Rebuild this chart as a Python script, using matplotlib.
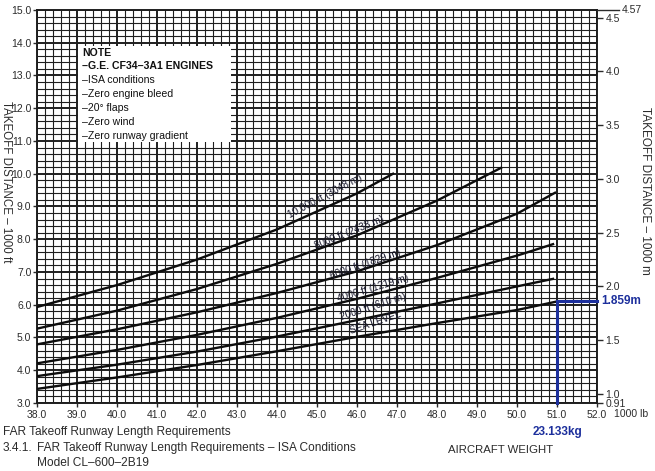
import matplotlib.pyplot as plt
import numpy as np

plt.rcParams['font.family'] = ['Liberation Sans', 'DejaVu Sans']

# aircraft weight, 1000 lb
wt_sl = [38, 40, 42, 44, 46, 48, 50, 51.0]
wt_2k = [38, 40, 42, 44, 46, 48, 50, 50.9]
wt_4k = [38, 40, 42, 44, 46, 48, 50, 50.9]
wt_6k = [38, 40, 42, 44, 46, 48, 50, 50.95]
wt_8k = [38, 40, 42, 44, 46, 48, 49.6]
wt_10k = [38, 40, 42, 44, 45, 46, 46.9]

# takeoff distance, 1000 ft
dist_sl = [3.43, 3.78, 4.16, 4.58, 5.02, 5.44, 5.84, 6.10]
dist_2k = [3.82, 4.17, 4.57, 5.03, 5.53, 6.04, 6.56, 6.79]
dist_4k = [4.21, 4.62, 5.08, 5.60, 6.18, 6.82, 7.50, 7.85]
dist_6k = [4.79, 5.25, 5.77, 6.36, 7.02, 7.82, 8.78, 9.42]
dist_8k = [5.27, 5.82, 6.48, 7.25, 8.12, 9.18, 10.18]
dist_10k = [5.93, 6.60, 7.38, 8.30, 8.85, 9.40, 10.00]

curve_names = ['SEA LEVEL', '2000 ft (610 m)', '4000 ft (1219 m)',
               '6000 ft (1829 m)', '8000 ft (2438 m)', '10,000 ft (3048 m)']

note_lines = ['NOTE', '\u2013G.E. CF34\u20133A1 ENGINES', '\u2013ISA conditions',
              '\u2013Zero engine bleed', '\u201320\u00b0 flaps', '\u2013Zero wind',
              '\u2013Zero runway gradient']

x_ticks = np.arange(38, 53, 1)
y_ticks = np.arange(3, 16, 1)
m_ticks = [0.9144, 1.0, 1.5, 2.0, 2.5, 3.0, 3.5, 4.0, 4.5]
m_labels = ['0.91', '1.0', '1.5', '2.0', '2.5', '3.0', '3.5', '4.0', '4.5']
m_top = 4.572

ans_wt = 51.0        # 23.133 kg x 1000
ans_m = 1.859
ans_ft = ans_m / 0.3048

blue = '#1c2f9c'
ink = '#1e1e1e'
txt = '#2b2b2b'

fig = plt.figure(figsize=(6.55, 4.71), dpi=100)
ax = fig.add_axes([0.0565, 0.1444, 0.855, 0.8344])
ax.set_xlim(38, 52)
ax.set_ylim(3, 15)

# graph paper grid: bold every unit, fine every 0.2
for v in np.arange(38, 52.01, 0.2):
    major = abs(v - round(v)) < 1e-6
    ax.axvline(v, color=ink, lw=1.4 if major else 0.8, zorder=1)
for v in np.arange(3, 15.01, 0.2):
    major = abs(v - round(v)) < 1e-6
    ax.axhline(v, color=ink, lw=1.4 if major else 0.8, zorder=1)

curves = [(wt_sl, dist_sl), (wt_2k, dist_2k), (wt_4k, dist_4k),
          (wt_6k, dist_6k), (wt_8k, dist_8k), (wt_10k, dist_10k)]
for xs, ys in curves:
    ax.plot(xs, ys, color='#0d0d0d', lw=1.7, zorder=3)

# curve labels, sitting just above each line
lab_pos = [(46.45, 5.45, 19), (46.4, 5.93, 18), (46.4, 6.50, 17),
           (46.2, 7.25, 19), (45.8, 8.22, 22), (45.2, 9.30, 28)]
for name, (lx, ly, rot) in zip(curve_names, lab_pos):
    ax.text(lx, ly, name, rotation=rot, fontsize=7.2, ha='center', va='center',
            color='#15152a', zorder=4, rotation_mode='anchor')

# note box
ax.add_patch(plt.Rectangle((39.03, 10.96), 3.82, 2.95, facecolor='white',
                           edgecolor='none', zorder=5))
for i, line in enumerate(note_lines):
    ax.text(39.12, 13.70 - i * 0.424, line, fontsize=7.6, va='center', zorder=6,
            fontweight='bold' if i < 2 else 'normal', color='#111111')

# answer lines
ax.plot([ans_wt, ans_wt], [3, ans_ft], color=blue, lw=2.2, zorder=7, clip_on=False)
ax.plot([ans_wt, 52], [ans_ft, ans_ft], color=blue, lw=2.2, zorder=7, clip_on=False)

ax.set_xticks(x_ticks)
ax.set_xticklabels([f'{v:.1f}' for v in x_ticks], fontsize=7.5, color=txt)
ax.set_yticks(y_ticks)
ax.set_yticklabels([f'{v:.1f}' for v in y_ticks], fontsize=7.5, color=txt)
ax.tick_params(axis='both', direction='out', length=3, width=1, pad=1, colors=txt)
ax.tick_params(axis='x', pad=2)
for s in ax.spines.values():
    s.set_color(ink)
    s.set_linewidth(1.4)

ax2 = ax.twinx()
ax2.set_ylim(3 * 0.3048, 15 * 0.3048)
ax2.set_yticks(m_ticks)
ax2.set_yticklabels(m_labels, fontsize=7.5, color=txt)
ax2.tick_params(axis='y', direction='out', length=4, width=1, pad=2, colors=txt)
for s in ax2.spines.values():
    s.set_visible(False)

# top metric mark extends beyond the frame
ax2.plot([1.0, 1.04], [m_top, m_top], transform=ax2.get_yaxis_transform(),
         color=txt, lw=1, clip_on=False)
ax2.text(1.045, m_top, '4.57', transform=ax2.get_yaxis_transform(), fontsize=7.5,
         color=txt, va='center', ha='left')

ax.text(1.008, ans_ft, '1.859m', transform=ax.get_yaxis_transform(), color=blue,
        fontsize=8.5, fontweight='bold', va='center', ha='left')
ax.text(ans_wt, -0.073, '23.133kg', transform=ax.get_xaxis_transform(), color=blue,
        fontsize=8.5, fontweight='bold', ha='center', va='center')
ax.text(1.03, -0.027, '1000 lb', transform=ax.transAxes, fontsize=7.5,
        color=txt, va='center')

fig.text(0.009, 0.615, 'TAKEOFF DISTANCE \u2013 1000 ft', rotation=270, fontsize=8.3,
         color=txt, ha='center', va='center')
fig.text(0.985, 0.595, 'TAKEOFF DISTANCE \u2013 1000 m', rotation=270, fontsize=8.5,
         color=txt, ha='center', va='center')

fig.text(0.004, 0.083, 'FAR Takeoff Runway Length Requirements', fontsize=8.6,
         color=txt, va='center')
fig.text(0.004, 0.049, '3.4.1.', fontsize=8.6, color=txt, va='center')
fig.text(0.056, 0.049, 'FAR Takeoff Runway Length Requirements \u2013 ISA Conditions',
         fontsize=8.6, color=txt, va='center')
fig.text(0.056, 0.017, 'Model CL\u2013600\u20132B19', fontsize=8.6, color=txt, va='center')
fig.text(0.684, 0.045, 'AIRCRAFT WEIGHT', fontsize=8.2, color=txt, va='center')

fig.savefig('out.png', dpi=100)
